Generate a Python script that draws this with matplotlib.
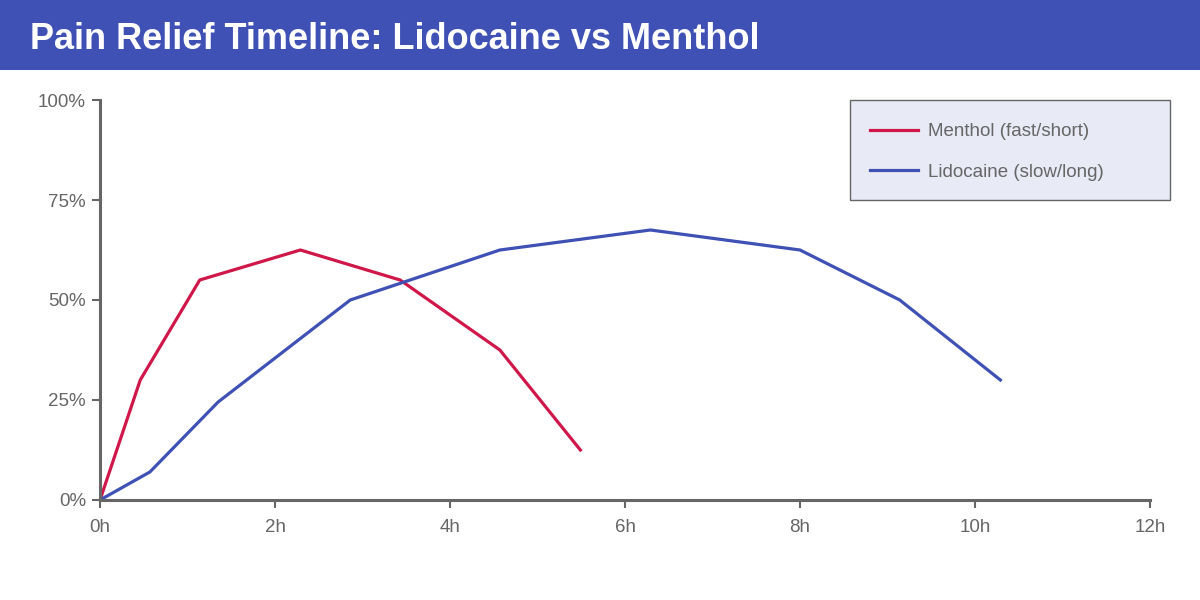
import matplotlib
matplotlib.use("Agg")
import matplotlib.pyplot as plt
from matplotlib.patches import Rectangle
from matplotlib.ticker import FuncFormatter

plt.rcParams['font.family'] = ['Liberation Sans', 'DejaVu Sans']

# données (heures, % de soulagement)
menthol_h = [0, 0.46, 1.14, 2.29, 3.43, 4.57, 5.49]
menthol_pct = [0, 30, 55, 62.5, 55, 37.5, 12.5]
lido_h = [0, 0.57, 1.35, 2.86, 4.57, 6.29, 8.0, 9.14, 10.29]
lido_pct = [0, 7, 24.5, 50, 62.5, 67.5, 62.5, 50, 30]
series_labels = ["Menthol (fast/short)", "Lidocaine (slow/long)"]
title = "Pain Relief Timeline: Lidocaine vs Menthol"

red = "#D0174A"
blue = "#3F51B5"
grey = "#666666"
W, H = 1200, 600

fig = plt.figure(figsize=(12, 6), dpi=100)
fig.patch.set_facecolor("white")

# bandeau du titre
band = fig.add_axes([0, 1 - 70 / H, 1, 70 / H])
band.set_facecolor(blue)
band.set_xticks([])
band.set_yticks([])
for s in band.spines.values():
    s.set_visible(False)
band.text(30 / W, 0.43, title, color="white", fontsize=26, fontweight="bold",
          va="center", ha="left", transform=band.transAxes)

ax = fig.add_axes([100 / W, 100 / H, 1050 / W, 400 / H])
l1, = ax.plot(menthol_h, menthol_pct, color=red, lw=2.3, label=series_labels[0])
l2, = ax.plot(lido_h, lido_pct, color=blue, lw=2.3, label=series_labels[1])

ax.set_xlim(0, 12)
ax.set_ylim(0, 100)
ax.set_xticks(range(0, 13, 2))
ax.set_yticks([0, 25, 50, 75, 100])
ax.xaxis.set_major_formatter(FuncFormatter(lambda v, p: f"{int(v)}h"))
ax.yaxis.set_major_formatter(FuncFormatter(lambda v, p: f"{int(v)}%"))
for side in ["top", "right"]:
    ax.spines[side].set_visible(False)
for side in ["left", "bottom"]:
    ax.spines[side].set_color(grey)
    ax.spines[side].set_linewidth(2.2)
ax.tick_params(colors=grey, labelsize=13.5, length=6, width=1.5)
ax.tick_params(axis="x", labelcolor=grey, pad=8)
ax.tick_params(axis="y", labelcolor=grey, pad=4)

# cadre de la légende
fig.patches.append(Rectangle((850 / W, 1 - 200 / H), 320 / W, 100 / H,
                             transform=fig.transFigure, facecolor="#E8EAF6",
                             edgecolor=grey, linewidth=1, zorder=0))
leg = fig.legend(handles=[l1, l2], loc="upper left",
                 bbox_to_anchor=(870 / W, 1 - 123 / H), frameon=False,
                 fontsize=13.5, labelcolor=grey, handlelength=2.55,
                 handletextpad=0.55, borderpad=0, labelspacing=1.25,
                 borderaxespad=0)

fig.savefig("out.png", dpi=100)
